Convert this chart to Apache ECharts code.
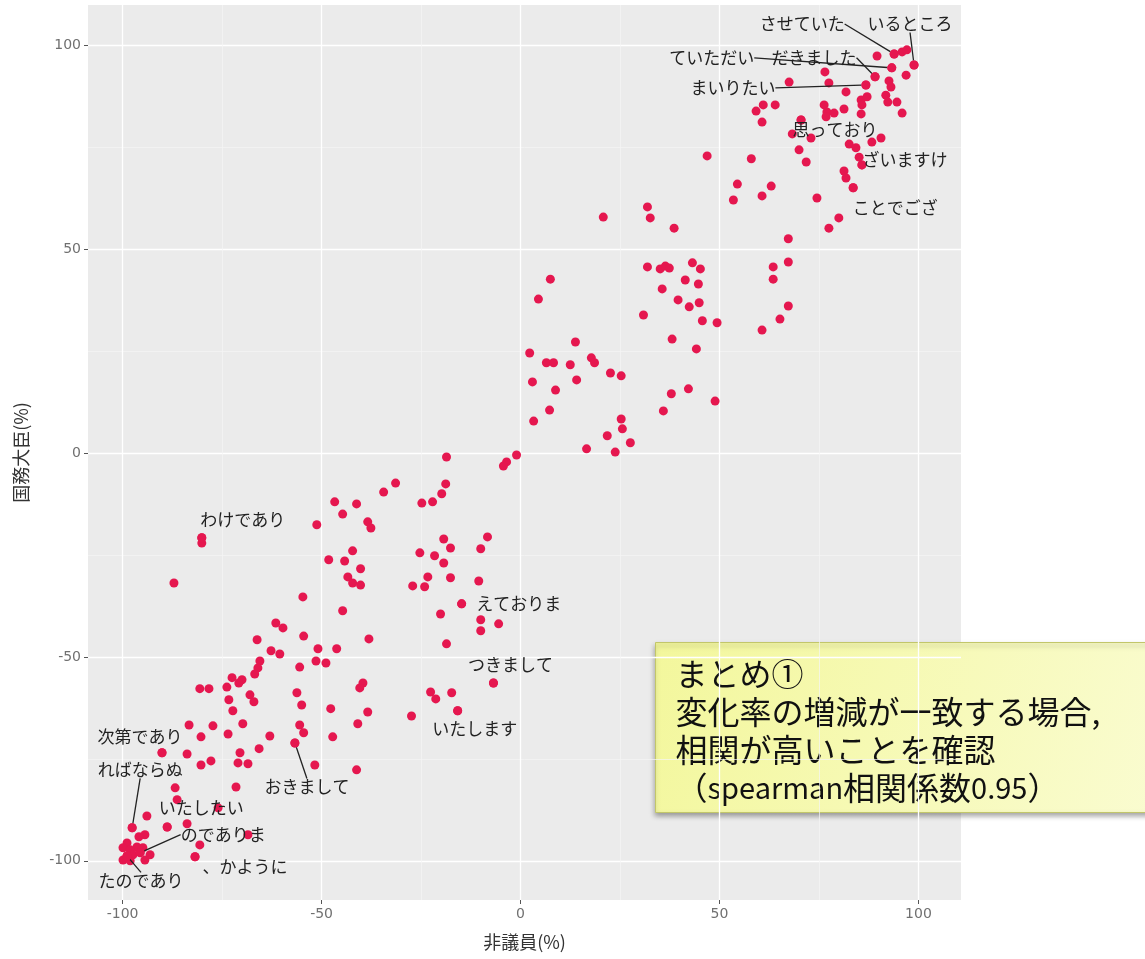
<!DOCTYPE html>
<html>
<head>
<meta charset="utf-8">
<script src="https://cdn.jsdelivr.net/npm/echarts@6/dist/echarts.min.js"></script>
<style>
  html, body { margin: 0; padding: 0; background: #fff; }
  #chart { width: 1145px; height: 959px; }
</style>
</head>
<body>
<div id="chart"></div>
<script>
// 非議員 (x) と 国務大臣 (y) の変化率 (%)
const xValues = [
  89.6, 93.9, 95.9, 97.1, 98.9, 93.3, 96.9, 89.1, 92.6, 86.8, 93.1, 76.5, 77.5, 67.5, 81.8, 85.6, 87.1, 91.8, 92.3, 94.6,
  85.8, 81.3, 76.3, 77.0, 78.8, 76.8, 85.6, 95.9, 59.2, 61.0, 64.0, 60.7, 70.5, 68.3, 73.0, 70.0, 71.8, 82.6, 84.3, 88.3,
  90.6, 85.1, 85.8, 81.3, 81.8, 83.6, 80.0, 77.5, 46.9, 58.0, 54.5, 63.0, 53.5, 60.7, 74.5, 38.6, 31.9, 32.6, 20.8, 67.3,
  67.3, 63.5, 63.5, 31.9, 35.1, 36.4, 37.4, 43.2, 45.2, 41.4, 44.7, 35.6, 39.6, 42.4, 44.9, 30.9, 45.7, 49.4, 67.3, 65.2,
  60.7, 38.1, 44.2, 7.5, 4.5, 13.8, 2.3, 6.5, 8.3, 12.5, 17.8, 18.6, 14.1, 22.6, 25.3, 3.0, 8.8, 7.3, 3.3, 42.2,
  37.9, 35.9, 48.9, 25.3, 25.6, 21.8, 27.6, 16.6, 23.8, -1.0, -3.5, -4.3, -18.6, -31.4, -34.4, -18.8, -19.8, -22.1, -24.8, -46.7,
  -41.2, -44.7, -38.4, -37.6, -51.2, -8.3, -10.0, -19.3, -17.6, -25.3, -21.6, -42.2, -48.2, -44.2, -40.2, -19.3, -43.4, -42.2, -40.2, -23.3,
  -17.6, -27.1, -24.1, -10.5, -54.7, -14.8, -44.7, -20.1, -10.0, -10.0, -5.5, -38.1, -18.6, -54.5, -50.9, -46.2, -51.4, -48.9, -55.5, -39.6,
  -40.4, -6.8, -22.6, -21.3, -17.3, -47.7, -38.4, -15.8, -27.4, -40.9, -55.0, -55.5, -54.5, -47.2, -56.7, -80.1, -80.1, -87.1, -61.5, -59.7,
  -66.2, -62.7, -60.5, -65.5, -66.0, -66.8, -72.5, -70.0, -70.8, -73.8, -80.6, -78.3, -68.0, -67.0, -73.3, -72.3, -56.2, -83.3, -77.3, -69.8,
  -80.3, -73.5, -63.0, -65.7, -90.1, -83.8, -70.5, -77.8, -80.3, -71.0, -68.5, -51.7, -41.2, -86.8, -71.5, -86.3, -76.0, -93.9, -88.8, -83.8,
  -68.5, -80.6, -81.8, -97.6, -94.4, -95.9, -98.9, -96.4, -94.9, -93.1, -99.9, -98.1, -97.4, -95.6, -98.9, -99.9, -98.1, -94.4
];
const yValues = [
  97.3, 97.8, 98.3, 98.8, 95.1, 94.4, 92.6, 92.2, 91.2, 90.2, 89.7, 93.4, 90.7, 90.9, 88.5, 86.5, 87.3, 87.7, 86.0, 86.0,
  85.3, 84.3, 85.3, 83.6, 83.3, 82.4, 83.1, 83.3, 83.8, 85.3, 85.3, 81.1, 81.6, 78.2, 77.2, 74.3, 71.3, 75.7, 74.8, 76.2,
  77.2, 72.5, 70.6, 69.1, 67.4, 65.0, 57.6, 55.1, 72.8, 72.1, 65.9, 65.4, 62.0, 63.0, 62.5, 55.1, 60.3, 57.6, 57.8, 52.5,
  46.8, 45.6, 42.6, 45.6, 45.1, 45.8, 45.3, 46.6, 45.1, 42.4, 41.4, 40.2, 37.5, 35.8, 36.8, 33.8, 32.4, 31.9, 36.0, 32.8,
  30.1, 27.9, 25.5, 42.6, 37.7, 27.2, 24.5, 22.1, 22.1, 21.6, 23.3, 22.1, 17.9, 19.6, 18.9, 17.4, 15.4, 10.5, 7.8, 15.7,
  14.5, 10.3, 12.7, 8.3, 5.9, 4.2, 2.5, 1.0, 0.2, -0.5, -2.2, -3.2, -1.0, -7.4, -9.6, -7.6, -10.0, -12.0, -12.3, -12.0,
  -12.5, -15.0, -16.9, -18.4, -17.6, -20.6, -23.5, -21.1, -23.3, -24.5, -25.2, -24.0, -26.2, -26.5, -28.4, -27.0, -30.4, -31.9, -32.4, -30.4,
  -30.6, -32.6, -32.8, -31.4, -35.3, -37.0, -38.7, -39.5, -40.9, -43.6, -41.9, -45.6, -46.8, -44.9, -48.0, -48.0, -51.0, -51.5, -52.5, -56.4,
  -57.6, -56.4, -58.6, -60.3, -58.8, -62.7, -63.5, -63.2, -64.5, -66.4, -61.8, -66.7, -68.6, -69.6, -71.1, -20.8, -22.1, -31.9, -41.7, -42.9,
  -45.8, -48.5, -49.3, -51.0, -52.7, -54.2, -55.1, -55.6, -56.4, -57.4, -57.8, -57.8, -59.3, -61.0, -60.5, -63.2, -58.8, -66.7, -66.9, -66.4,
  -69.6, -68.9, -69.4, -72.5, -73.5, -73.8, -73.5, -75.5, -76.5, -76.0, -76.2, -76.5, -77.7, -82.1, -81.9, -85.0, -87.0, -89.0, -91.7, -90.9,
  -93.6, -96.1, -99.0, -91.9, -93.6, -94.1, -95.6, -96.6, -96.8, -98.5, -96.8, -97.3, -98.5, -98.0, -98.8, -99.8, -100.0, -99.8
];

// ラベル付きの語 (点の値)
const labelTexts = ['させていた', 'いるところ', 'ていただい', 'だきました', 'まいりたい', '思っており', 'ざいますけ', 'ことでござ',
  'わけであり', 'えておりま', 'つきまして', 'いたします', '次第であり', 'ればならぬ', 'いたしたい', 'のでありま', '、かように', 'たのであり', 'おきまして'];
const labelX = [93.9, 98.9, 93.3, 89.1, 86.8, 70.5, 85.8, 83.6, -80.1, -14.8, -6.8, -15.8, -90.1, -97.6, -88.8, -95.6, -81.8, -98.9, -56.7];
const labelY = [97.8, 95.1, 94.4, 92.2, 90.2, 81.6, 70.6, 65.0, -20.8, -37.0, -56.4, -63.2, -73.5, -91.9, -91.7, -98.0, -99.0, -98.8, -71.1];

const xTicks = [-100, -50, 0, 50, 100];
const yTicks = [-100, -50, 0, 50, 100];
const minorTicks = [-75, -25, 25, 75];

// label placement (pixel offset from point, leader line on/off)
const labelPlace = {
  'させていた': [-92, -30, true],
  'いるところ': [-4, -41, true],
  'ていただい': [-180, -10, true],
  'だきました': [-61, -19, true],
  'まいりたい': [-133, 3, true],
  '思っており': [34, 10, false],
  'ざいますけ': [43, -5, false],
  'ことでござ': [42, 20, false],
  'わけであり': [41, -18, false],
  'えておりま': [57, 0, false],
  'つきまして': [17, -18, false],
  'いたします': [17, 18, false],
  '次第であり': [-22, -16, false],
  'ればならぬ': [8, -58, true],
  'いたしたい': [34, -19, false],
  'のでありま': [83, -18, true],
  '、かように': [50, 10, false],
  'たのであり': [14, 25, true],
  'おきまして': [12, 44, true]
};

const pointColor = '#e5174f';
const jpFont = '"Noto Sans CJK JP", sans-serif';
const tickFont = '"DejaVu Sans", sans-serif';

const points = xValues.map((x, i) => [x, yValues[i]]);
const withLine = [], noLine = [];
labelTexts.forEach((t, i) => {
  const item = { name: t, value: [labelX[i], labelY[i]] };
  if (labelPlace[t][2]) withLine.push(item); else noLine.push(item);
});

function labelSeries(data, showLine) {
  return {
    type: 'scatter',
    data: data,
    symbolSize: 9,
    itemStyle: { color: pointColor, opacity: 1 },
    z: 3,
    label: {
      show: true,
      position: 'inside',
      formatter: '{b}',
      color: '#222',
      fontSize: 17,
      fontFamily: jpFont
    },
    labelLine: { show: showLine, lineStyle: { color: '#222', width: 1.3 } },
    labelLayout: function (params) {
      const p = labelPlace[params.text];
      return { dx: p[0], dy: p[1] };
    }
  };
}

const chart = echarts.init(document.getElementById('chart'));
const xMin = -108.7, xMax = 110.7, yMin = -109.6, yMax = 109.8;

chart.setOption({
  animation: false,
  backgroundColor: '#fff',
  grid: {
    left: 88, right: 184, top: 5, bottom: 59,
    show: true, backgroundColor: '#ebebeb', borderWidth: 0
  },
  xAxis: [{
    type: 'value', min: xMin, max: xMax, position: 'bottom',
    name: '非議員(%)', nameLocation: 'middle', nameGap: 33,
    nameTextStyle: { color: '#333', fontSize: 18, fontFamily: jpFont },
    axisLine: { show: false, onZero: false },
    axisTick: { show: true, length: 4, customValues: xTicks, lineStyle: { color: '#555' } },
    axisLabel: { customValues: xTicks, color: '#707070', fontSize: 14, margin: 7, fontFamily: tickFont },
    splitLine: { show: true, lineStyle: { color: '#fff', width: 1.3 } }
  }, {
    type: 'value', min: xMin, max: xMax, position: 'bottom',
    axisLine: { show: false, onZero: false },
    axisTick: { show: false, customValues: minorTicks },
    axisLabel: { show: false, customValues: minorTicks },
    splitLine: { show: true, lineStyle: { color: '#f5f5f5', width: 0.7 } }
  }],
  yAxis: [{
    type: 'value', min: yMin, max: yMax, position: 'left',
    name: '国務大臣(%)', nameLocation: 'middle', nameGap: 58, nameRotate: 90,
    nameTextStyle: { color: '#333', fontSize: 18, fontFamily: jpFont },
    axisLine: { show: false, onZero: false },
    axisTick: { show: true, length: 4, customValues: yTicks, lineStyle: { color: '#555' } },
    axisLabel: { customValues: yTicks, color: '#707070', fontSize: 14, margin: 7, fontFamily: tickFont },
    splitLine: { show: true, lineStyle: { color: '#fff', width: 1.3 } }
  }, {
    type: 'value', min: yMin, max: yMax, position: 'left',
    axisLine: { show: false, onZero: false },
    axisTick: { show: false, customValues: minorTicks },
    axisLabel: { show: false, customValues: minorTicks },
    splitLine: { show: true, lineStyle: { color: '#f5f5f5', width: 0.7 } }
  }],
  series: [{
    type: 'scatter',
    data: points,
    symbolSize: 9,
    itemStyle: { color: pointColor, opacity: 1 },
    z: 2
  }, labelSeries(withLine, true), labelSeries(noLine, false)],
  graphic: [{
    type: 'group',
    left: 655, top: 642,
    children: [{
      type: 'rect',
      shape: { x: 0, y: 0, width: 520, height: 170 },
      style: {
        fill: new echarts.graphic.LinearGradient(0, 0, 1, 1, [
          { offset: 0, color: '#f3f79c' },
          { offset: 1, color: '#fafcd2' }
        ]),
        stroke: '#c2c66a', lineWidth: 1,
        shadowBlur: 5, shadowOffsetX: -1, shadowOffsetY: 3, shadowColor: 'rgba(0,0,0,0.35)'
      }
    }, {
      type: 'text',
      x: 20, y: 12,
      style: {
        text: 'まとめ①\n変化率の増減が一致する場合,\n相関が高いことを確認\n（{l|spearman}相関係数{l|0.95}）',
        fill: '#111', fontSize: 32, lineHeight: 38, fontFamily: jpFont,
        rich: { l: { fontSize: 29, lineHeight: 38, fill: '#111', fontFamily: jpFont } }
      }
    }]
  }]
});
</script>
</body>
</html>
